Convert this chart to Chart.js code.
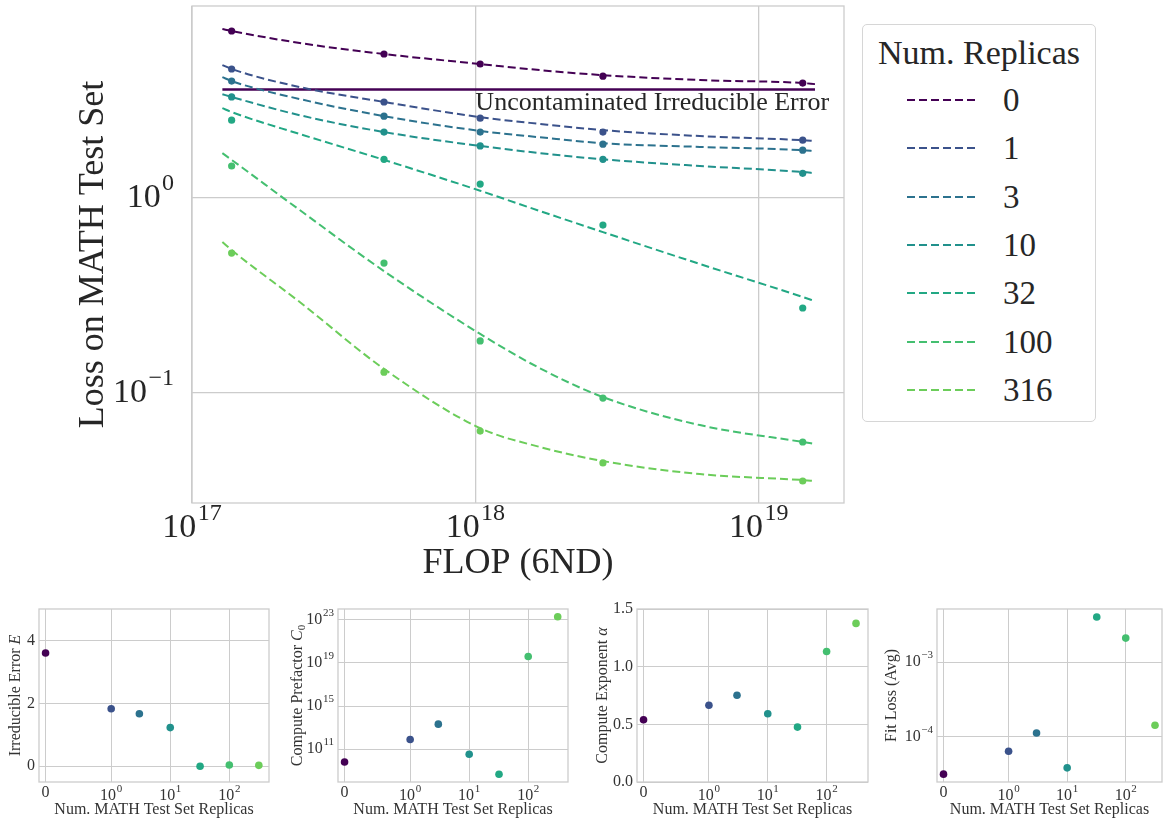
<!DOCTYPE html>
<html>
<head>
<meta charset="utf-8">
<script src="https://cdn.jsdelivr.net/npm/chart.js@4.4.0/dist/chart.umd.min.js"></script>
<style>
  body { margin: 0; background: #fff; width: 1167px; height: 818px; position: relative; overflow: hidden;
         font-family: "Liberation Serif", serif; color: #262626; }
  canvas { position: absolute; }
  #legend { position: absolute; left: 862px; top: 24px; width: 232px; height: 396px;
            border: 1px solid #d6d6d6; border-radius: 5px; }
  #legend .title { position: absolute; left: 0; top: 0; width: 100%; height: 56px; line-height: 56px;
                   text-align: center; font-size: 34px; }
  #legend .rows { position: absolute; left: 0; top: 51px; }
  #legend .row { display: flex; align-items: center; height: 48.3px; }
  #legend svg { margin-left: 44px; margin-right: 28px; }
  #legend span { font-size: 33px; line-height: 48px; }
</style>
</head>
<body>
<canvas id="main" width="860" height="590" style="left:0;top:0"></canvas>
<div id="legend"><div class="title">Num. Replicas</div><div class="rows"></div></div>
<canvas id="s0" width="284" height="218" style="left:0;top:600px"></canvas>
<canvas id="s1" width="300" height="218" style="left:284px;top:600px"></canvas>
<canvas id="s2" width="290" height="218" style="left:584px;top:600px"></canvas>
<canvas id="s3" width="293" height="218" style="left:874px;top:600px"></canvas>
<script>
const replicas = [0, 1, 3, 10, 32, 100, 316];
const colors = ['#440154', '#3b528b', '#2c728e', '#21918c', '#22a884', '#44bf70', '#6ccd5a'];

// measured runs
const flop = [1.38e17, 4.76e17, 1.04e18, 2.82e18, 1.43e19];
const loss0 = [7.19, 5.48, 4.87, 4.22, 3.89];
const loss1 = [4.59, 3.11, 2.57, 2.18, 1.98];
const loss3 = [3.98, 2.63, 2.18, 1.89, 1.76];
const loss10 = [3.30, 2.18, 1.85, 1.58, 1.34];
const loss32 = [2.51, 1.58, 1.18, 0.727, 0.273];
const loss100 = [1.46, 0.464, 0.185, 0.0943, 0.0561];
const loss316 = [0.522, 0.128, 0.0638, 0.0438, 0.0354];

// fitted curves
const fitFlop = [1.28e17, 1.38e17, 2.40e17, 4.76e17, 1.04e18, 1.69e18, 2.82e18, 6.20e18, 1.43e19, 1.58e19];
const fit0 = [7.36, 7.19, 6.24, 5.48, 4.87, 4.53, 4.27, 4.03, 3.89, 3.84];
const fit1 = [4.81, 4.59, 3.71, 3.11, 2.60, 2.40, 2.23, 2.08, 1.98, 1.96];
const fit3 = [4.17, 3.98, 3.22, 2.63, 2.21, 2.05, 1.91, 1.83, 1.76, 1.74];
const fit10 = [3.41, 3.30, 2.66, 2.18, 1.85, 1.70, 1.58, 1.46, 1.36, 1.34];
const fit32 = [2.89, 2.76, 2.13, 1.57, 1.09, 0.858, 0.669, 0.459, 0.311, 0.296];
const fit100 = [1.70, 1.57, 0.868, 0.422, 0.201, 0.134, 0.0954, 0.0685, 0.0561, 0.0548];
const fit316 = [0.595, 0.541, 0.293, 0.133, 0.0661, 0.0529, 0.0448, 0.0384, 0.0358, 0.0354];

// fit parameters per replica count
const irreducible = [3.6, 1.83, 1.67, 1.23, 0.0, 0.04, 0.03];
const prefactor = [6.6e9, 8e11, 2.1e13, 3.4e10, 4.7e8, 3.9e19, 1.9e23];
const exponent = [0.54, 0.665, 0.752, 0.592, 0.476, 1.131, 1.375];
const fitLoss = [3.1e-5, 6.3e-5, 1.11e-4, 3.77e-5, 4.06e-3, 2.11e-3, 1.41e-4];

const lossByReplica = [loss0, loss1, loss3, loss10, loss32, loss100, loss316];
const fitByReplica = [fit0, fit1, fit3, fit10, fit32, fit100, fit316];

const FAM = '"Liberation Serif", serif';
const GRID = '#cccccc';
Chart.defaults.font.family = FAM;

// symmetric log axis (linthresh 1, linscale 1, base 10)
const LIN = 1 / (1 - 0.1);
function symT(v) { const a = Math.abs(v); return a <= 1 ? v * LIN : Math.sign(v) * (LIN + Math.log10(a)); }
function symInv(t) { const a = Math.abs(t); return a <= LIN ? t / LIN : Math.sign(t) * Math.pow(10, a - LIN); }

class SymlogScale extends Chart.LinearScale {
  buildTicks() {
    return [0, 1, 10, 100].filter(v => v >= this.min && v <= this.max).map(v => ({ value: v }));
  }
  configure() {
    super.configure();
    this._t0 = symT(this.min);
    this._t1 = symT(this.max);
  }
  getPixelForValue(v) {
    return this.getPixelForDecimal((symT(v) - this._t0) / (this._t1 - this._t0));
  }
  getValueForPixel(p) {
    return symInv(this._t0 + this.getDecimalForPixel(p) * (this._t1 - this._t0));
  }
}
SymlogScale.id = 'symlog';
SymlogScale.defaults = Chart.LinearScale.defaults;
Chart.register(SymlogScale);

function drawPow(ctx, exp, x, y, size, align) {
  ctx.font = size + 'px ' + FAM;
  const bw = ctx.measureText('10').width;
  const es = Math.round(size * 0.7);
  ctx.font = es + 'px ' + FAM;
  const ew = ctx.measureText(exp).width;
  const gap = size * 0.04;
  const w = bw + gap + ew;
  const left = align === 'right' ? x - w : x - w / 2;
  ctx.textAlign = 'left';
  ctx.textBaseline = 'middle';
  ctx.font = size + 'px ' + FAM;
  ctx.fillText('10', left, y);
  ctx.font = es + 'px ' + FAM;
  ctx.fillText(exp, left + bw + gap, y - size * 0.42);
}

function drawPlain(ctx, text, x, y, size, align) {
  ctx.font = size + 'px ' + FAM;
  ctx.textAlign = align;
  ctx.textBaseline = 'middle';
  ctx.fillText(text, x, y);
}

function powLabel(v) {
  const e = Math.round(Math.log10(v));
  return { exp: (e < 0 ? '\u2212' : '') + Math.abs(e) };
}

function drawLabel(ctx, lab, x, y, size, align) {
  if (typeof lab === 'string') drawPlain(ctx, lab, x, y, size, align);
  else drawPow(ctx, lab.exp, x, y, size, align);
}

// text with italic / subscript runs, centred on (cx, cy)
function drawRich(ctx, parts, cx, cy, size, rotate) {
  ctx.save();
  ctx.translate(cx, cy);
  if (rotate) ctx.rotate(-Math.PI / 2);
  const fonts = parts.map(p => (p.it ? 'italic ' : '') + (p.sub ? Math.round(size * 0.7) : size) + 'px ' + FAM);
  let total = 0;
  const widths = parts.map((p, i) => { ctx.font = fonts[i]; const w = ctx.measureText(p.t).width; total += w; return w; });
  let x = -total / 2;
  ctx.textAlign = 'left';
  ctx.textBaseline = 'middle';
  parts.forEach((p, i) => {
    ctx.font = fonts[i];
    ctx.fillText(p.t, x, p.sub ? size * 0.28 : 0);
    x += widths[i];
  });
  ctx.restore();
}

function frameBox(chart) {
  const a = chart.chartArea, ctx = chart.ctx;
  ctx.save();
  ctx.strokeStyle = GRID;
  ctx.lineWidth = 1.3;
  ctx.strokeRect(a.left, a.top, a.right - a.left, a.bottom - a.top);
  ctx.restore();
}

// ---------- main scaling plot ----------
const mainDatasets = [];
lossByReplica.forEach((vals, i) => {
  mainDatasets.push({
    data: fitFlop.map((x, j) => ({ x, y: fitByReplica[i][j] })),
    showLine: true, borderColor: colors[i], borderWidth: 2, borderDash: [8, 4],
    pointRadius: 0, cubicInterpolationMode: 'monotone', fill: false
  });
  mainDatasets.push({
    data: flop.map((x, j) => ({ x, y: vals[j] })),
    showLine: false, backgroundColor: colors[i], borderWidth: 0, pointRadius: 3.6
  });
});
mainDatasets.push({
  data: [{ x: fitFlop[0], y: irreducible[0] }, { x: fitFlop[fitFlop.length - 1], y: irreducible[0] }],
  showLine: true, borderColor: colors[0], borderWidth: 2.5, pointRadius: 0
});

const mainText = {
  id: 'mainText',
  beforeDatasetsDraw(chart) { frameBox(chart); },
  afterDraw(chart) {
    const ctx = chart.ctx, a = chart.chartArea;
    const xs = chart.scales.x, ys = chart.scales.y;
    ctx.save();
    ctx.fillStyle = '#262626';
    xs.ticks.forEach(t => drawLabel(ctx, powLabel(t.value), xs.getPixelForValue(t.value), a.bottom + 25, 34, 'center'));
    ys.ticks.forEach(t => drawLabel(ctx, powLabel(t.value), a.left - 18, ys.getPixelForValue(t.value), 34, 'right'));
    drawRich(ctx, [{ t: 'FLOP (6ND)' }], (a.left + a.right) / 2, 564, 36, false);
    drawRich(ctx, [{ t: 'Loss on MATH Test Set' }], 94, (a.top + a.bottom) / 2, 36, true);
    ctx.font = '26px ' + FAM;
    ctx.textAlign = 'left';
    ctx.textBaseline = 'middle';
    ctx.fillText('Uncontaminated Irreducible Error', xs.getPixelForValue(1e18), ys.getPixelForValue(irreducible[0]) + 14);
    ctx.restore();
  }
};

new Chart(document.getElementById('main'), {
  type: 'scatter',
  data: { datasets: mainDatasets },
  options: {
    responsive: false, animation: false, events: [],
    layout: { padding: { top: 6, right: 16, left: 0, bottom: 0 } },
    plugins: { legend: { display: false }, tooltip: { enabled: false } },
    scales: {
      x: {
        type: 'logarithmic', min: 1e17, max: 2e19,
        afterBuildTicks: s => { s.ticks = [1e17, 1e18, 1e19].map(v => ({ value: v })); },
        afterFit: s => { s.height = 87; },
        ticks: { display: false },
        grid: { color: GRID, lineWidth: 1.3, drawTicks: false },
        border: { display: false }
      },
      y: {
        type: 'logarithmic', min: 0.0273, max: 9.66,
        afterBuildTicks: s => { s.ticks = [0.1, 1].map(v => ({ value: v })); },
        afterFit: s => { s.width = 192; },
        ticks: { display: false },
        grid: { color: GRID, lineWidth: 1.3, drawTicks: false },
        border: { display: false }
      }
    }
  },
  plugins: [mainText]
});

// ---------- legend ----------
const rows = document.querySelector('#legend .rows');
replicas.forEach((r, i) => {
  const row = document.createElement('div');
  row.className = 'row';
  row.innerHTML = '<svg width="68" height="4"><line x1="0" y1="2" x2="68" y2="2" stroke="' + colors[i] +
    '" stroke-width="2" stroke-dasharray="8 4"/></svg><span>' + r + '</span>';
  rows.appendChild(row);
});

// ---------- parameter panels ----------
const panels = [
  { id: 's0', canvasLeft: 0, canvasWidth: 284, frame: [39, 269], xmax: 470,
    y: { type: 'linear', min: -0.5, max: 5 }, yTicks: [0, 2, 4], fmt: v => String(v),
    values: irreducible, label: [{ t: 'Irreducible Error ' }, { t: 'E', it: true }], labelX: 16 },
  { id: 's1', canvasLeft: 284, canvasWidth: 300, frame: [338, 568], xmax: 472,
    y: { type: 'logarithmic', min: 9.1e7, max: 1e24 }, yTicks: [1e11, 1e15, 1e19, 1e23], fmt: powLabel,
    values: prefactor, label: [{ t: 'Compute Prefactor ' }, { t: 'C', it: true }, { t: '0', sub: true }], labelX: 14 },
  { id: 's2', canvasLeft: 584, canvasWidth: 290, frame: [637, 868], xmax: 505,
    y: { type: 'linear', min: 0, max: 1.5 }, yTicks: [0, 0.5, 1, 1.5], fmt: v => v.toFixed(1),
    values: exponent, label: [{ t: 'Compute Exponent ' }, { t: '\u03b1', it: true }], labelX: 19 },
  { id: 's3', canvasLeft: 874, canvasWidth: 293, frame: [937, 1162], xmax: 416,
    y: { type: 'logarithmic', min: 2.43e-5, max: 5.2e-3 }, yTicks: [1e-4, 1e-3], fmt: powLabel,
    values: fitLoss, label: [{ t: 'Fit Loss (Avg)' }], labelX: 18 }
];

panels.forEach(p => {
  const yWidth = p.frame[0] - p.canvasLeft;
  const padRight = p.canvasLeft + p.canvasWidth - p.frame[1];
  const panelText = {
    id: 'panelText',
    beforeDatasetsDraw(chart) { frameBox(chart); },
    afterDraw(chart) {
      const ctx = chart.ctx, a = chart.chartArea;
      const xs = chart.scales.x, ys = chart.scales.y;
      ctx.save();
      ctx.fillStyle = '#333333';
      xs.ticks.forEach(t => {
        const lab = t.value === 0 ? '0' : powLabel(t.value);
        drawLabel(ctx, lab, xs.getPixelForValue(t.value), a.bottom + (t.value === 0 ? 11 : 14), 16, 'center');
      });
      ys.ticks.forEach(t => drawLabel(ctx, p.fmt(t.value), a.left - 4, ys.getPixelForValue(t.value), 16, 'right'));
      drawRich(ctx, [{ t: 'Num. MATH Test Set Replicas' }], (a.left + a.right) / 2, a.bottom + 28, 16, false);
      drawRich(ctx, p.label, p.labelX, (a.top + a.bottom) / 2, 16, true);
      ctx.restore();
    }
  };
  new Chart(document.getElementById(p.id), {
    type: 'scatter',
    data: {
      datasets: [{
        data: replicas.map((r, i) => ({ x: r, y: p.values[i] })),
        backgroundColor: colors, borderWidth: 0, pointRadius: 3.8
      }]
    },
    options: {
      responsive: false, animation: false, events: [],
      layout: { padding: { top: 9, right: padRight, left: 0, bottom: 0 } },
      plugins: { legend: { display: false }, tooltip: { enabled: false } },
      scales: {
        x: {
          type: 'symlog', min: -0.1, max: p.xmax,
          afterFit: s => { s.height = 36; },
          ticks: { display: false },
          grid: { color: GRID, lineWidth: 1, drawTicks: false },
          border: { display: false }
        },
        y: {
          type: p.y.type, min: p.y.min, max: p.y.max,
          afterBuildTicks: s => { s.ticks = p.yTicks.map(v => ({ value: v })); },
          afterFit: s => { s.width = yWidth; },
          ticks: { display: false },
          grid: { color: GRID, lineWidth: 1, drawTicks: false },
          border: { display: false }
        }
      }
    },
    plugins: [panelText]
  });
});
</script>
</body>
</html>
